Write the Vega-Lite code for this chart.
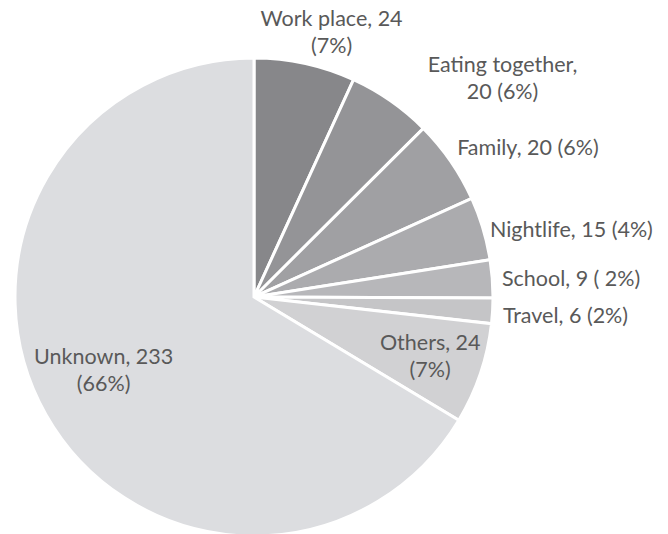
{
  "$schema": "https://vega.github.io/schema/vega-lite/v6.json",
  "width": 498,
  "height": 584,
  "autosize": {"type": "none"},
  "padding": {"left": 5, "top": 5, "right": 165, "bottom": 5},
  "background": "white",
  "config": {"view": {"stroke": null}},
  "data": {
    "values": [
      {"cat": "Work place", "n": 24, "rank": 1, "label": "Work place, 24\n(7%)"},
      {"cat": "Eating together", "n": 20, "rank": 2, "label": "Eating together,\n20 (6%)"},
      {"cat": "Family", "n": 20, "rank": 3, "label": "Family, 20 (6%)"},
      {"cat": "Nightlife", "n": 15, "rank": 4, "label": "Nightlife, 15 (4%)"},
      {"cat": "School", "n": 9, "rank": 5, "label": "School, 9 ( 2%)"},
      {"cat": "Travel", "n": 6, "rank": 6, "label": "Travel, 6 (2%)"},
      {"cat": "Others", "n": 24, "rank": 7, "label": "Others, 24\n(7%)"},
      {"cat": "Unknown", "n": 233, "rank": 8, "label": "Unknown, 233\n(66%)"}
    ]
  },
  "encoding": {
    "theta": {"field": "n", "type": "quantitative", "stack": true},
    "order": {"field": "rank", "type": "quantitative"}
  },
  "layer": [
    {
      "mark": {"type": "arc", "outerRadius": 239, "stroke": "white", "strokeWidth": 3},
      "encoding": {
        "color": {
          "field": "cat", "type": "nominal", "legend": null,
          "scale": {
            "domain": ["Work place", "Eating together", "Family", "Nightlife", "School", "Travel", "Others", "Unknown"],
            "range": ["#87878a", "#949497", "#a0a0a3", "#ababae", "#b7b7ba", "#c5c5c7", "#d1d1d3", "#dcdde0"]
          }
        }
      }
    },
    {
      "mark": {"type": "text", "radius": 270, "dx": 20, "dy": -13.5, "font": "Lato", "fontSize": 21.5, "fill": "#595959", "lineBreak": "\n", "lineHeight": 27, "align": "center", "baseline": "middle"},
      "encoding": {"text": {"condition": {"test": "datum.cat === 'Work place'", "field": "label"}, "value": ""}}
    },
    {
      "mark": {"type": "text", "radius": 300, "dx": 77, "dy": 15.5, "font": "Lato", "fontSize": 21.5, "fill": "#595959", "lineBreak": "\n", "lineHeight": 27, "align": "center", "baseline": "middle"},
      "encoding": {"text": {"condition": {"test": "datum.cat === 'Eating together'", "field": "label"}, "value": ""}}
    },
    {
      "mark": {"type": "text", "radius": 300, "dx": 27, "dy": 22, "font": "Lato", "fontSize": 21.5, "fill": "#595959", "lineBreak": "\n", "lineHeight": 27, "align": "center", "baseline": "middle"},
      "encoding": {"text": {"condition": {"test": "datum.cat === 'Family'", "field": "label"}, "value": ""}}
    },
    {
      "mark": {"type": "text", "radius": 300, "dx": 30, "dy": 20, "font": "Lato", "fontSize": 21.5, "fill": "#595959", "lineBreak": "\n", "lineHeight": 27, "align": "center", "baseline": "middle"},
      "encoding": {"text": {"condition": {"test": "datum.cat === 'Nightlife'", "field": "label"}, "value": ""}}
    },
    {
      "mark": {"type": "text", "radius": 300, "dx": 18, "dy": 6, "font": "Lato", "fontSize": 21.5, "fill": "#595959", "lineBreak": "\n", "lineHeight": 27, "align": "center", "baseline": "middle"},
      "encoding": {"text": {"condition": {"test": "datum.cat === 'School'", "field": "label"}, "value": ""}}
    },
    {
      "mark": {"type": "text", "radius": 300, "dx": 12, "dy": 3, "font": "Lato", "fontSize": 21.5, "fill": "#595959", "lineBreak": "\n", "lineHeight": 27, "align": "center", "baseline": "middle"},
      "encoding": {"text": {"condition": {"test": "datum.cat === 'Travel'", "field": "label"}, "value": ""}}
    },
    {
      "mark": {"type": "text", "radius": 185, "dx": 1, "dy": -12.5, "font": "Lato", "fontSize": 21.5, "fill": "#595959", "lineBreak": "\n", "lineHeight": 27, "align": "center", "baseline": "middle"},
      "encoding": {"text": {"condition": {"test": "datum.cat === 'Others'", "field": "label"}, "value": ""}}
    },
    {
      "mark": {"type": "text", "radius": 167, "dx": -5, "dy": -21.5, "font": "Lato", "fontSize": 21.5, "fill": "#595959", "lineBreak": "\n", "lineHeight": 27, "align": "center", "baseline": "middle"},
      "encoding": {"text": {"condition": {"test": "datum.cat === 'Unknown'", "field": "label"}, "value": ""}}
    }
  ]
}
